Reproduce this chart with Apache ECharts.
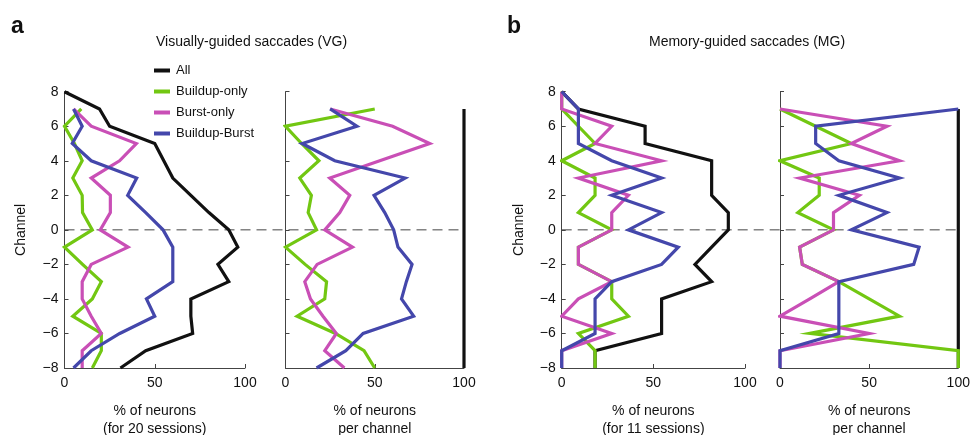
<!DOCTYPE html>
<html><head><meta charset="utf-8">
<script src="https://cdn.jsdelivr.net/npm/echarts@6/dist/echarts.min.js"></script>
<style>html,body{margin:0;padding:0;background:#fff}#c{width:971px;height:435px}</style>
</head><body><div id="c"></div>
<script>
const channels = [8,7,6,5,4,3,2,1,0,-1,-2,-3,-4,-5,-6,-7,-8];
const xTicks = [0, 50, 100];
const seriesNames = ['All','Buildup-only','Burst-only','Buildup-Burst'];
// VG: % of neurons (20 sessions)
const vgAll   = [0,19.4,25,50,55,60,70,80,91,96,85,91,70,70,71,45,31];
const vgBuild = [null,9.3,0,5.5,9.8,4.6,9.8,10,15.4,0,10,20.4,15.4,4.6,20.4,20.4,15.4];
const vgBurst = [null,5,14.8,39.8,30.5,14.8,25.4,25.4,19.8,35.2,14.8,9.8,9.8,14.8,20.4,9.8,9.8];
const vgBB    = [null,5,9.8,4.3,14.8,40,35,45,54.6,60,60,60,45.4,50,30.6,14.8,5];
// VG: % of neurons per channel
const vgPAll   = [null,100,100,100,100,100,100,100,100,100,100,100,100,100,100,100,100];
const vgPBuild = [null,50,0,9,18.7,8,14.5,12.7,17.4,0,11,23,22,6.5,28,44,50];
const vgPBurst = [null,25,60,80.8,52.8,24.8,36,30.4,22,37.5,17.7,10.8,14,21,28.5,22,33];
const vgPBB    = [null,25,40,9.3,27.6,67,49.6,55.6,60.6,63,70.9,67.7,65,71.8,43.5,33.8,17.4];
// MG: % of neurons (11 sessions)
const mgAll   = [0,9.1,45.5,45.5,81.8,81.8,81.8,90.9,90.9,81.8,72.7,81.8,54.5,54.5,54.5,18.2,18.2];
const mgBuild = [0,0,9.1,18.2,0,18.2,18.2,9.1,27.3,9.1,9.1,27.3,27.3,36.4,9.1,18.2,18.2];
const mgBurst = [0,0,27.3,18.2,54.5,9.1,36.4,27.3,27.3,9.1,9.1,27.3,9.1,0,27.3,0,0];
const mgBB    = [0,9.1,9.1,9.1,27.3,54.5,27.3,54.5,36.4,63.6,54.5,27.3,18.2,18.2,18.2,0,0];
// MG: % of neurons per channel
const mgPAll   = [null,100,100,100,100,100,100,100,100,100,100,100,100,100,100,100,100];
const mgPBuild = [null,0,20,40,0,22,22,10,30,11,12.5,33,50,67,16.7,100,100];
const mgPBurst = [null,0,60,40,67,11,44.5,30,30,11,12.5,33,16.7,0,50,0,0];
const mgPBB    = [null,100,20,20,33,67,33,60,40,78,75,33,33,33,33,0,0];
const zeroLine = [[0,0],[1,0]];

const colors = {'All':'#111111','Buildup-only':'#72c712','Burst-only':'#c94fb6','Buildup-Burst':'#4447ab'};
const FONT = 'Liberation Sans, Arial, Helvetica, sans-serif';

function pts(arr){ const out=[]; arr.forEach((v,i)=>{ if(v!==null) out.push([v, channels[i]]); }); return out; }
const minusFmt = v => v < 0 ? '\u2212' + (-v) : String(v);

const panelDefs = [
  {left:64.5, width:180.5, data:[vgAll,vgBuild,vgBurst,vgBB], ylabels:true, name:'% of neurons\n(for 20 sessions)'},
  {left:285.5, width:178.5, data:[vgPAll,vgPBuild,vgPBurst,vgPBB], ylabels:false, name:'% of neurons\nper channel'},
  {left:561.7, width:183.3, data:[mgAll,mgBuild,mgBurst,mgBB], ylabels:true, name:'% of neurons\n(for 11 sessions)'},
  {left:780, width:178.3, data:[mgPAll,mgPBuild,mgPBurst,mgPBB], ylabels:false, name:'% of neurons\nper channel'}
];
const TOP = 91.7, H = 276.3;
const grid=[], xAxis=[], yAxis=[], series=[];
const axLine = {show:true, onZero:false, lineStyle:{color:'#444', width:1}};
panelDefs.forEach((p,gi)=>{
  grid.push({left:p.left, top:TOP, width:p.width, height:H, containLabel:false, outerBoundsMode:'none'});
  xAxis.push({type:'value', gridIndex:gi, min:xTicks[0], max:xTicks[2], interval:xTicks[1]-xTicks[0],
    axisLine:axLine, axisTick:{show:true, inside:true, length:4, lineStyle:{color:'#444'}},
    splitLine:{show:false}, axisLabel:{color:'#111', fontSize:14, fontFamily:FONT, margin:8},
    name:p.name, nameLocation:'middle', nameGap:34,
    nameTextStyle:{color:'#111', fontSize:14, fontFamily:FONT, lineHeight:18}});
  yAxis.push({type:'value', gridIndex:gi, min:-8, max:8, interval:2,
    axisLine:axLine, axisTick:{show:true, inside:true, length:4, lineStyle:{color:'#444'}},
    splitLine:{show:false},
    axisLabel:{show:p.ylabels, color:'#111', fontSize:14, fontFamily:FONT, margin:6, formatter:minusFmt},
    name:p.ylabels?'Channel':'', nameLocation:'middle', nameGap:36, nameRotate:90,
    nameTextStyle:{color:'#111', fontSize:14, fontFamily:FONT}});
  p.data.forEach((arr,si)=>{
    const nm = seriesNames[si];
    series.push({type:'line', name:nm, xAxisIndex:gi, yAxisIndex:gi, data:pts(arr),
      showSymbol:false, symbol:'none', silent:true, animation:false, z:3+si,
      lineStyle:{color:colors[nm], width:3.2, join:'miter'}, itemStyle:{color:colors[nm]}});
  });
});
// dashed zero lines spanning both panels of a and of b
[[64.5, 399.5],[561.7, 396.6]].forEach((g,k)=>{
  const gi = grid.length;
  grid.push({left:g[0], top:TOP, width:g[1], height:H, containLabel:false, outerBoundsMode:'none'});
  xAxis.push({type:'value', gridIndex:gi, min:0, max:1, show:false});
  yAxis.push({type:'value', gridIndex:gi, min:-8, max:8, show:false});
  series.push({type:'line', name:'zero'+k, xAxisIndex:gi, yAxisIndex:gi, data:zeroLine, symbol:'none',
    silent:true, animation:false, z:2, lineStyle:{color:'#444', width:1, type:[10,6]}});
});

const chart = echarts.init(document.getElementById('c'), null, {renderer:'canvas'});
chart.setOption({
  backgroundColor:'#fff',
  animation:false,
  title:[
    {text:'a', left:11, top:15, padding:0, textStyle:{fontSize:23, fontWeight:'bold', color:'#111', fontFamily:FONT}},
    {text:'b', left:507, top:15, padding:0, textStyle:{fontSize:23, fontWeight:'bold', color:'#111', fontFamily:FONT}},
    {text:'Visually-guided saccades (VG)', left:156, top:35, padding:0, textStyle:{fontSize:14, fontWeight:'normal', color:'#111', fontFamily:FONT}},
    {text:'Memory-guided saccades (MG)', left:649, top:35, padding:0, textStyle:{fontSize:14, fontWeight:'normal', color:'#111', fontFamily:FONT}}
  ],
  legend:{data:seriesNames, orient:'vertical', left:154, top:64, padding:0, itemWidth:16, itemHeight:4, itemGap:8,
    icon:'rect', selectedMode:false, textStyle:{fontSize:13, color:'#111', fontFamily:FONT, padding:[0,0,0,1]}},
  grid, xAxis, yAxis, series
});
</script></body></html>
